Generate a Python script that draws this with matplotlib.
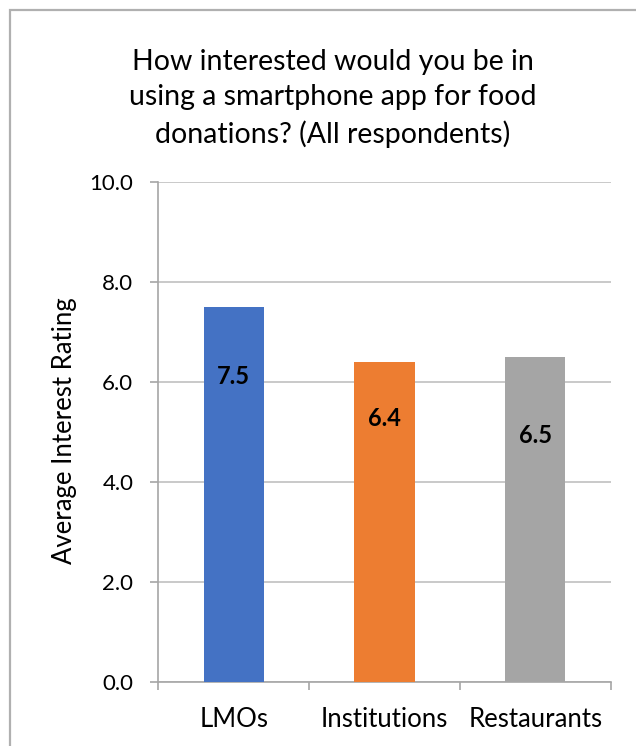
import matplotlib.pyplot as plt
from matplotlib.patches import Rectangle

categories = ['LMOs', 'Institutions', 'Restaurants']
ratings = [7.5, 6.4, 6.5]
label_text = ['7.5', '6.4', '6.5']
label_y = [6.1, 5.26, 4.92]
bar_colors = ['#4472C4', '#ED7D31', '#A5A5A5']
y_ticks = [0, 2, 4, 6, 8, 10]

plt.rcParams['font.family'] = ['Lato', 'DejaVu Sans']

fig = plt.figure(figsize=(6.36, 7.46), dpi=100)
ax = fig.add_axes([0.2489, 0.0858, 0.7113, 0.6706])

x = range(len(categories))
ax.bar(x, ratings, width=0.40, color=bar_colors, zorder=3)
for i, (t, yy) in enumerate(zip(label_text, label_y)):
    ax.text(i, yy, t, ha='center', va='center', fontsize=17,
            fontweight='bold', color='black', zorder=4)

ax.set_xlim(-0.5, 2.5)
ax.set_ylim(0, 10)
ax.set_yticks(y_ticks)
ax.set_yticklabels([f'{v:.1f}' for v in y_ticks])
ax.set_xticks(list(x))
ax.set_xticklabels(categories)
ax.set_xticks([-0.5, 0.5, 1.5, 2.5], minor=True)

ax.grid(axis='y', color='#c0c0c0', linewidth=1.2, zorder=0)
for side in ['top', 'right']:
    ax.spines[side].set_visible(False)
for side in ['left', 'bottom']:
    ax.spines[side].set_color('#a6a6a6')
    ax.spines[side].set_linewidth(1.2)

ax.tick_params(axis='y', length=6, width=1.2, color='#a6a6a6',
               labelsize=16, pad=12)
ax.tick_params(axis='x', which='major', length=0, labelsize=18.5, pad=18)
ax.tick_params(axis='x', which='minor', length=6, width=1.2, color='#a6a6a6')

fig.text(0.102, 0.423, 'Average Interest Rating', rotation=90,
         ha='center', va='center', fontsize=18.5)
fig.text(0.5236, 0.868,
         'How interested would you be in\nusing a smartphone app for food\ndonations? (All respondents)',
         ha='center', va='center', fontsize=20.5, linespacing=1.45)

fig.patches.append(Rectangle((10 / 636, -0.1), 1.2, (736 / 746) + 0.1,
                             transform=fig.transFigure, fill=False,
                             edgecolor='#b0b0b0', linewidth=1.6))

fig.savefig('out.png', dpi=100)
